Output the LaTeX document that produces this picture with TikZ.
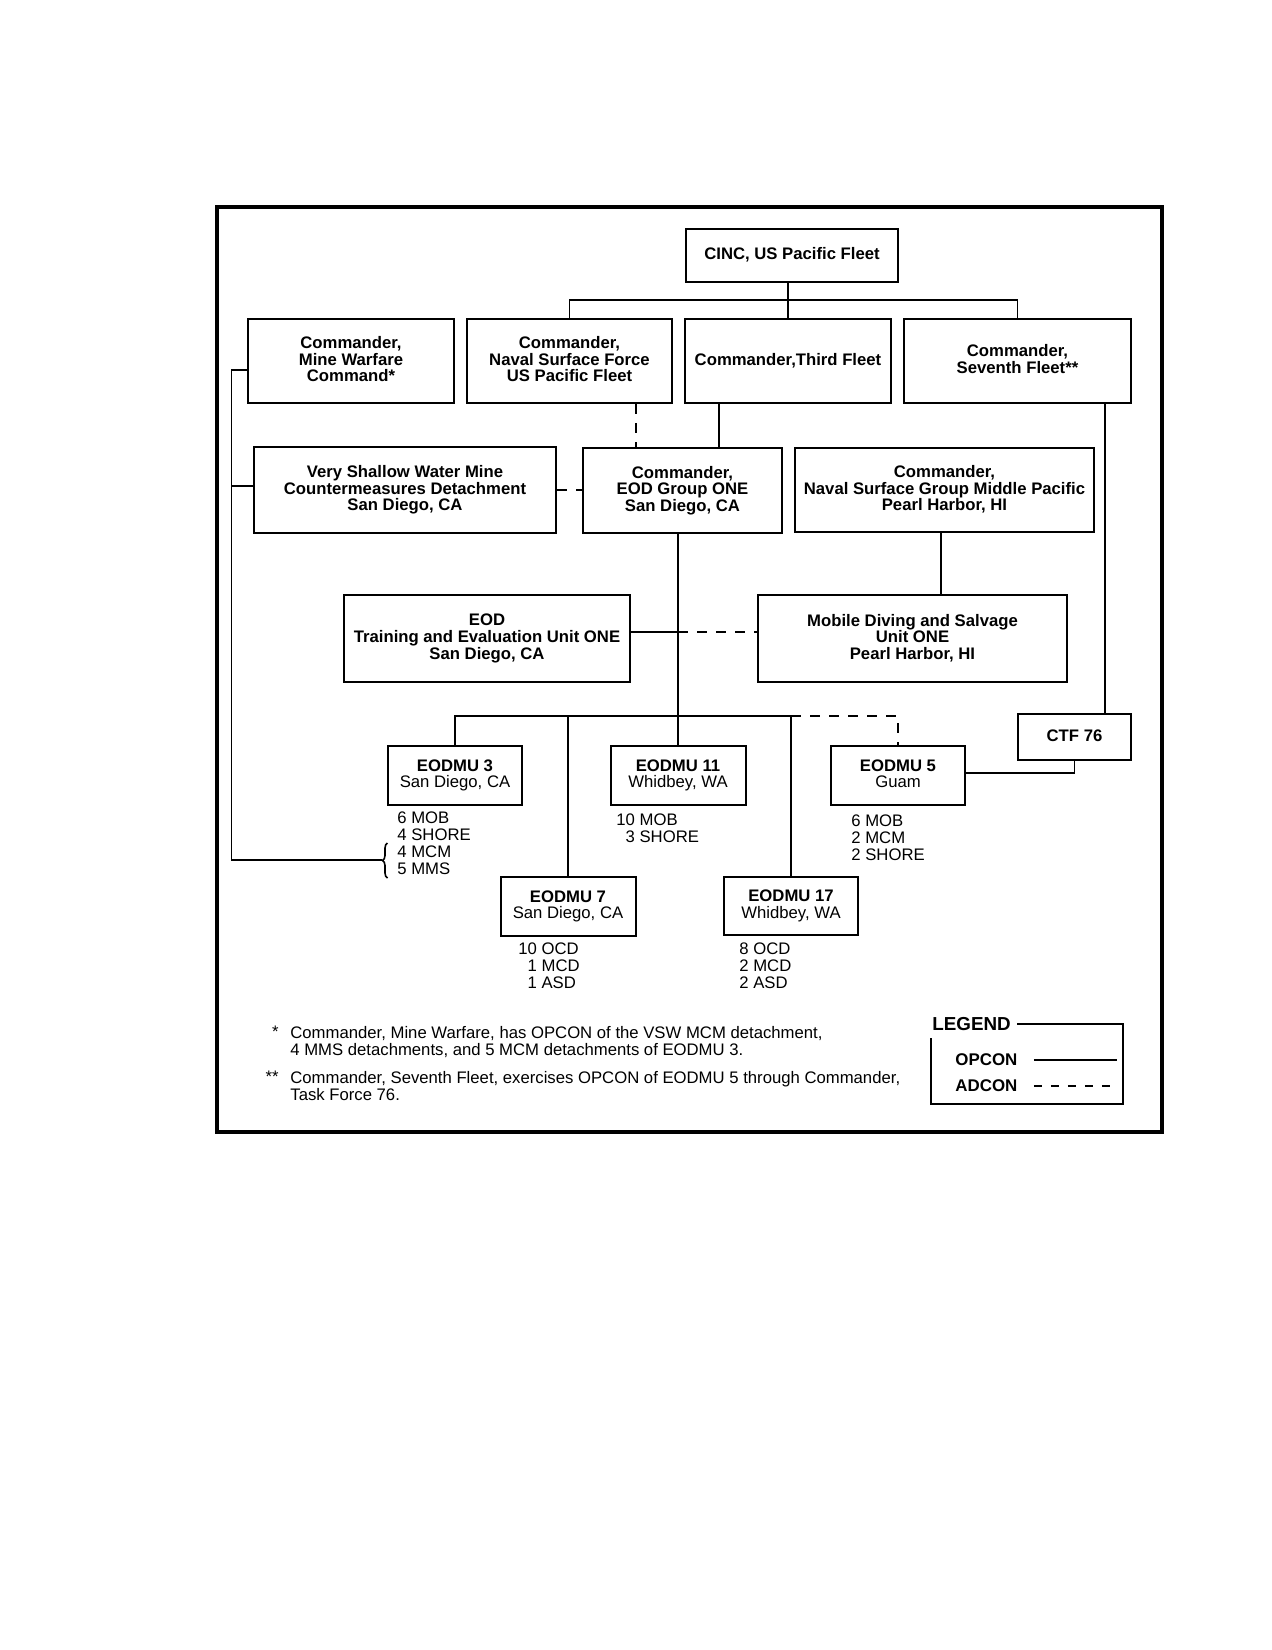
\documentclass[tikz,border=0pt]{standalone}
\usepackage{fontspec}
\setmainfont{Liberation Sans}
\usepackage{tikz}
\usetikzlibrary{positioning,calc,decorations.pathreplacing}

\begin{document}
\begin{tikzpicture}[x=0.5pt,y=-0.5pt,
  box/.style={draw,line width=1pt,inner sep=0pt,text depth=1.8pt,align=center,font={\bfseries\fontsize{8.35}{8.35}\selectfont}},
  txt/.style={inner sep=0pt,align=left,anchor=north west,font={\fontsize{8.35}{8.5}\selectfont}},
  opcon/.style={line width=0.9pt},
  adcon/.style={line width=0.9pt,dash pattern=on 5pt off 4.5pt}]
\useasboundingbox (0,0) rectangle (1272,1650);
\draw[line width=1.6pt] (217,207) rectangle (1162,1132);

\node[box,minimum width=106pt,minimum height=26.5pt] (cinc) at (792,255.5) {CINC, US Pacific Fleet};
\node[box,minimum width=103pt,minimum height=42pt] (mwc) at (351,361) {Commander,\\Mine Warfare\\Command*};
\node[box,minimum width=102.5pt,minimum height=42pt] (nsf) at (569.5,361) {Commander,\\Naval Surface Force\\US Pacific Fleet};
\node[box,minimum width=103pt,minimum height=42pt] (third) at (788,361) {Commander,Third Fleet};
\node[box,minimum width=113.5pt,minimum height=42pt] (seventh) at (1017.5,361) {Commander,\\Seventh Fleet**};
\node[box,minimum width=151pt,minimum height=43pt] (vsw) at (405,490) {Very Shallow Water Mine\\Countermeasures Detachment\\San Diego, CA};
\node[box,minimum width=99.5pt,minimum height=42.5pt] (eodg) at (682.5,490.5) {Commander,\\EOD Group ONE\\San Diego, CA};
\node[box,minimum width=149.5pt,minimum height=42pt] (nsgmp) at (944.5,490) {Commander,\\Naval Surface Group Middle Pacific\\Pearl Harbor, HI};
\node[box,minimum width=143pt,minimum height=43.5pt] (teu) at (487,638.5) {EOD\\Training and Evaluation Unit ONE\\San Diego, CA};
\node[box,minimum width=154.5pt,minimum height=43.5pt] (mdsu) at (912.5,638.5) {Mobile Diving and Salvage\\Unit ONE\\Pearl Harbor, HI};
\node[box,minimum width=56.5pt,minimum height=23pt] (ctf) at (1074.5,737) {CTF 76};
\node[box,minimum width=67pt,minimum height=29.5pt] (eodmu3) at (455,775.5) {EODMU 3\\{\mdseries San Diego, CA}};
\node[box,minimum width=67.5pt,minimum height=29.5pt] (eodmu11) at (678,775.5) {EODMU 11\\{\mdseries Whidbey, WA}};
\node[box,minimum width=67pt,minimum height=29.5pt] (eodmu5) at (898,775.5) {EODMU 5\\{\mdseries Guam}};
\node[box,minimum width=67.5pt,minimum height=29.5pt] (eodmu7) at (568,906.5) {EODMU 7\\{\mdseries San Diego, CA}};
\node[box,minimum width=67pt,minimum height=29pt] (eodmu17) at (791,906) {EODMU 17\\{\mdseries Whidbey, WA}};

\node[txt] (list3) at (397,811) {6 MOB\\4 SHORE\\4 MCM\\5 MMS};
\node[txt] (list11) at (616,813) {10 MOB\\\phantom{1}3 SHORE};
\node[txt] (list5) at (851,814) {6 MOB\\2 MCM\\2 SHORE};
\node[txt] (list7) at (518,942) {10 OCD\\\phantom{1}1 MCD\\\phantom{1}1 ASD};
\node[txt] (list17) at (739,942) {8 OCD\\2 MCD\\2 ASD};

\draw[opcon] (nsf.north) -- ++(0,-18) -| (seventh.north);
\draw[opcon] (third.north) -- (third.north |- cinc.south);
\draw[adcon] ([xshift=33.25pt]nsf.south) -- ([xshift=33.25pt]nsf.south |- eodg.north);
\draw[opcon] ([xshift=-34.5pt]third.south) -- ([xshift=-34.5pt]third.south |- eodg.north);
\draw[adcon] (vsw.east) -- (vsw.east -| eodg.west);
\draw[opcon] ([yshift=-4.5pt]mwc.west) -- ++(-15.5,0) |- (382,860) coordinate (bracetip);
\draw[opcon] ([yshift=2pt]vsw.west) -- ++(-21.5,0);
\draw[line width=0.8pt,decorate,decoration={brace,amplitude=2.5pt}] (387.5,878) -- (387.5,843);
\draw[opcon] (eodg.south -| eodmu11.north) -- (eodmu11.north);
\draw[opcon] ([yshift=3.25pt]teu.east) -- ([yshift=3.25pt]teu.east -| eodmu11.north) coordinate (teuj);
\draw[adcon] (teuj) -- (teuj -| mdsu.west);
\draw[opcon] ([xshift=-1.75pt]nsgmp.south) -- ([xshift=-1.75pt]nsgmp.south |- mdsu.north);
\draw[opcon] ([xshift=43.75pt]seventh.south) -- ([xshift=43.75pt]seventh.south |- ctf.north);
\draw[opcon] (eodmu3.north) -- ++(0,-29) coordinate (busl) -| (eodmu17.north);
\draw[opcon] (eodmu7.north) -- (eodmu7.north |- busl);
\draw[adcon] (busl -| eodmu17.north) -| (eodmu5.north);
\draw[opcon] (ctf.south) |- ([yshift=1.25pt]eodmu5.east);

\node[txt] (fn1) at (290,1026) {Commander, Mine Warfare, has OPCON of the VSW MCM detachment,\\4 MMS detachments, and 5 MCM detachments of EODMU 3.};
\node[txt,anchor=north east] (star1) at ([xshift=-5.5pt]fn1.north west) {*};
\node[txt] (fn2) at (290,1071) {Commander, Seventh Fleet, exercises OPCON of EODMU 5 through Commander,\\Task Force 76.};
\node[txt,anchor=north east] (star2) at ([xshift=-5.5pt]fn2.north west) {**};

\node[inner sep=0pt,anchor=west,font={\bfseries\fontsize{9.4}{9.4}\selectfont}] (legend) at (932,1024) {LEGEND};
\draw[line width=0.6pt] ([xshift=3pt]legend.east) -- (1123,1024) -- (1123,1104) -- (931,1104) -- (931,1038);
\node[inner sep=0pt,anchor=west,font={\bfseries\fontsize{8.45}{8.45}\selectfont}] (opc) at (955,1060) {OPCON};
\node[inner sep=0pt,anchor=west,font={\bfseries\fontsize{8.45}{8.45}\selectfont}] (adc) at (955,1086) {ADCON};
\draw[opcon] ([xshift=8pt]opc.east) -- ++(83,0);
\draw[adcon,dash pattern=on 4pt off 4.5pt] ([xshift=8pt]adc.east) -- ++(76,0);
\end{tikzpicture}
\end{document}
